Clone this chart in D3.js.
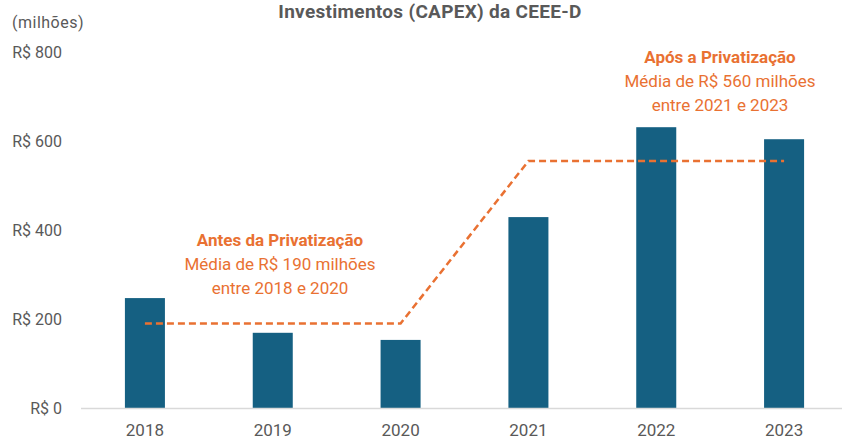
<!DOCTYPE html>
<head>
<meta charset="utf-8">
<style>
body{ margin:0; background:white; font-family: Roboto, sans-serif; }
.tick text{ fill:#595959; }
</style>
</head>
<body>
<svg width="842" height="439"></svg>
<script src="https://d3js.org/d3.v7.min.js"></script>
<script>

// data (R$ milhões)
var years = ["2018","2019","2020","2021","2022","2023"];
var capex = [247, 169, 153, 429, 631, 604];
var media = [190, 190, 190, 555, 555, 555];
var yTicks = [0, 200, 400, 600, 800];

var svg = d3.select("svg");
var grey = "#595959", blue = "#156082", orange = "#E97132";

var x = d3.scaleBand()
  .domain(years)
  .range([81, 848])
  .paddingInner(0.687)
  .paddingOuter(0.3435);

var y = d3.scaleLinear().domain([0, 800]).range([408, 52]);

// title
svg.append("text")
  .attr("x", 430).attr("y", 18)
  .attr("text-anchor", "middle")
  .style("font-weight", "bold").style("font-size", "19px")
  .style("letter-spacing", "0.3px")
  .attr("fill", grey)
  .text("Investimentos (CAPEX) da CEEE-D");

svg.append("text")
  .attr("x", 12).attr("y", 28)
  .style("font-size", "16px").style("letter-spacing", "0.5px")
  .attr("fill", grey)
  .text("(milhões)");

// y labels
svg.selectAll(".ylab")
  .data(yTicks)
  .enter().append("text")
  .attr("class", "ylab")
  .attr("x", 62).attr("y", d => y(d))
  .attr("dy", "0.35em")
  .attr("text-anchor", "end")
  .style("font-size", "16px").attr("fill", grey)
  .text(d => "R$ " + d);

// bars
svg.selectAll(".bar")
  .data(years)
  .enter().append("rect")
  .attr("class", "bar")
  .attr("x", d => x(d))
  .attr("width", x.bandwidth())
  .attr("y", (d, i) => y(capex[i]))
  .attr("height", (d, i) => y(0) - y(capex[i]))
  .attr("fill", blue);

// baseline
svg.append("line")
  .attr("x1", 81).attr("x2", 842)
  .attr("y1", y(0) + 0.5).attr("y2", y(0) + 0.5)
  .attr("stroke", "#D9D9D9").attr("stroke-width", 1.5);

// x axis labels
var xAxis = d3.axisBottom(x).tickSize(0).tickPadding(16);
var gx = svg.append("g")
  .attr("transform", "translate(0," + y(0) + ")")
  .call(xAxis);
gx.select(".domain").remove();
gx.selectAll("text").style("font-size", "17px").style("font-family", "Roboto, sans-serif");

// dashed average line
var line = d3.line()
  .x((d, i) => x(years[i]) + x.bandwidth() / 2)
  .y(d => y(d));
svg.append("path")
  .datum(media)
  .attr("d", line)
  .attr("fill", "none")
  .attr("stroke", orange)
  .attr("stroke-width", 2.5)
  .attr("stroke-dasharray", "7,4");

// annotations
var notes = [
  {cx: 280, cy: 240, lines: ["Antes da Privatização", "Média de R$ 190 milhões", "entre 2018 e 2020"]},
  {cx: 720, cy: 57, lines: ["Após a Privatização", "Média de R$ 560 milhões", "entre 2021 e 2023"]}
];
notes.forEach(function(n) {
  n.lines.forEach(function(t, i) {
    svg.append("text")
      .attr("x", n.cx).attr("y", n.cy + i * 24)
      .attr("dy", "0.35em")
      .attr("text-anchor", "middle")
      .style("font-size", "17px")
      .style("font-weight", i == 0 ? "bold" : "normal")
      .attr("fill", orange)
      .text(t);
  });
});

</script>
</body>
